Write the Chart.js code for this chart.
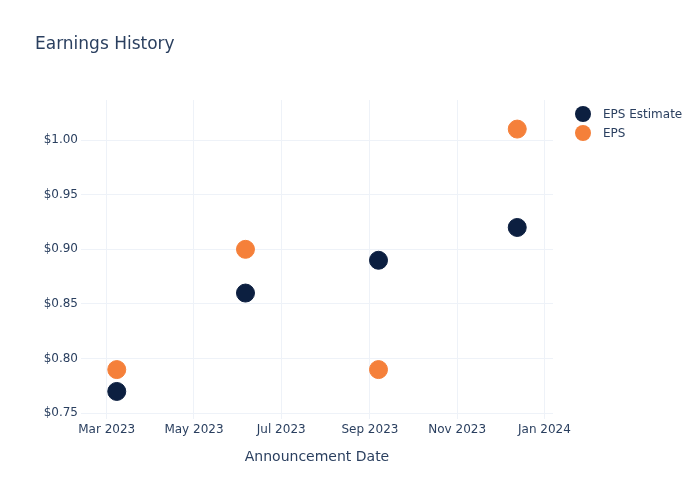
<!DOCTYPE html>
<html>
<head>
<meta charset="utf-8">
<script src="https://cdn.jsdelivr.net/npm/chart.js@4.4.0/dist/chart.umd.min.js"></script>
<style>
  html, body { margin: 0; padding: 0; background: #fff; }
  #wrap { width: 700px; height: 500px; }
</style>
</head>
<body>
<div id="wrap"><canvas id="epsChart" width="700" height="500"></canvas></div>
<script>
const announceDates = ['2023-03-08', '2023-06-06', '2023-09-07', '2023-12-13'];
const epsEstimate = [0.77, 0.86, 0.89, 0.92];
const epsActual = [0.79, 0.90, 0.79, 1.01];
const xTickDates = ['2023-03-01', '2023-05-01', '2023-07-01', '2023-09-01', '2023-11-01', '2024-01-01'];
const yTickValues = [0.75, 0.80, 0.85, 0.90, 0.95, 1.00];
const seriesNames = ['EPS Estimate', 'EPS'];
const seriesColors = ['#0c1f40', '#f5803a'];

const monthNames = ['Jan', 'Feb', 'Mar', 'Apr', 'May', 'Jun', 'Jul', 'Aug', 'Sep', 'Oct', 'Nov', 'Dec'];
const FONT = '"DejaVu Sans", Verdana, sans-serif';
const TEXT = '#2a3f5f';
const GRID = '#eef2f8';

function ts(s) {
    const p = s.split('-').map(Number);
    return Date.UTC(p[0], p[1] - 1, p[2]);
}

function toPoints(vals) {
    return announceDates.map((d, i) => ({ x: ts(d), y: vals[i] }));
}

// title and legend, drawn like plotly does
const decorPlugin = {
    id: 'decor',
    afterDraw(chart) {
        const ctx = chart.ctx;
        ctx.save();
        ctx.fillStyle = TEXT;
        ctx.textBaseline = 'middle';
        ctx.textAlign = 'left';
        ctx.font = '17px ' + FONT;
        ctx.fillText('Earnings History', 35, 45);

        ctx.font = '12px ' + FONT;
        seriesNames.forEach((name, i) => {
            const y = 114 + i * 19;
            ctx.beginPath();
            ctx.arc(583, y, 8, 0, Math.PI * 2);
            ctx.fillStyle = seriesColors[i];
            ctx.fill();
            ctx.fillStyle = TEXT;
            ctx.fillText(name, 603, y + 1);
        });
        ctx.restore();
    }
};

new Chart(document.getElementById('epsChart').getContext('2d'), {
    type: 'scatter',
    data: {
        datasets: [
            {
                label: seriesNames[0],
                data: toPoints(epsEstimate),
                backgroundColor: seriesColors[0],
                borderColor: seriesColors[0],
                pointRadius: 9,
                pointHoverRadius: 9
            },
            {
                label: seriesNames[1],
                data: toPoints(epsActual),
                backgroundColor: seriesColors[1],
                borderColor: seriesColors[1],
                pointRadius: 9,
                pointHoverRadius: 9
            }
        ]
    },
    options: {
        responsive: false,
        animation: false,
        layout: { padding: { left: 1, top: 100, right: 147, bottom: 32 } },
        plugins: {
            legend: { display: false },
            title: { display: false },
            tooltip: { enabled: false }
        },
        scales: {
            x: {
                type: 'linear',
                min: ts('2023-02-11'),
                max: ts('2024-01-07'),
                afterFit: s => { s.height = 49; },
                afterBuildTicks: s => { s.ticks = xTickDates.map(d => ({ value: ts(d) })); },
                border: { display: false },
                grid: { color: GRID, drawTicks: false },
                ticks: {
                    padding: 4,
                    color: TEXT,
                    font: { family: FONT, size: 12 },
                    maxRotation: 0,
                    callback: v => {
                        const d = new Date(v);
                        return monthNames[d.getUTCMonth()] + ' ' + d.getUTCFullYear();
                    }
                },
                title: {
                    display: true,
                    text: 'Announcement Date',
                    color: TEXT,
                    font: { family: FONT, size: 14 },
                    padding: { top: 0, bottom: 2 }
                }
            },
            y: {
                min: 0.7448,
                max: 1.0366,
                afterFit: s => { s.width = 80; },
                afterBuildTicks: s => { s.ticks = yTickValues.map(v => ({ value: v })); },
                border: { display: false },
                grid: { color: GRID, drawTicks: false },
                ticks: {
                    padding: 3,
                    color: TEXT,
                    font: { family: FONT, size: 12 },
                    callback: v => '$' + v.toFixed(2)
                }
            }
        }
    },
    plugins: [decorPlugin]
});
</script>
</body>
</html>
